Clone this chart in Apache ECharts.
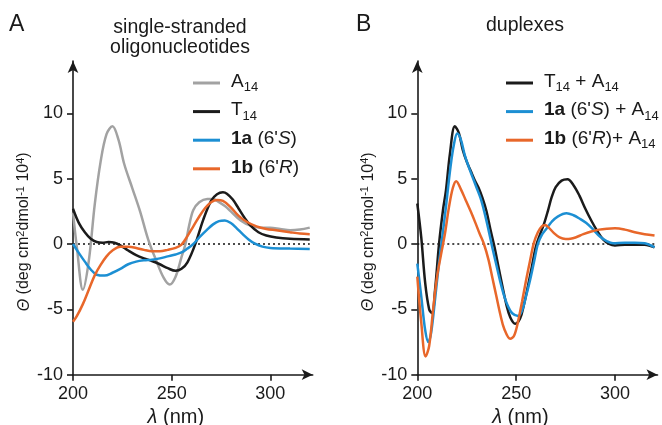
<!DOCTYPE html>
<html>
<head>
<meta charset="utf-8">
<script src="https://cdn.jsdelivr.net/npm/echarts@6/dist/echarts.min.js"></script>
<style>
html,body{margin:0;padding:0;background:#fff;}
#chart{width:662px;height:425px;}
</style>
</head>
<body>
<div id="chart"></div>
<script>
// ---------- Data (wavelength in nm, ellipticity in 10^4 deg cm2 dmol-1) ----------
// Panel A: single-stranded oligonucleotides
const wlA_A14 = [200,202,205,208,211,214,217,220,223,226,230,234,238,242,246,249,252,255,257,259,261,264,268,271,274,277,280,285,290,295,300,305,310,315,320];
const thA_A14 = [2.4,-0.3,-3.5,-1.3,3.0,6.3,8.4,9.0,8.0,6.1,4.3,2.5,0.4,-1.2,-2.6,-3.1,-2.5,-1.0,0,1.5,2.6,3.2,3.45,3.45,3.2,2.9,2.5,1.8,1.4,1.25,1.25,1.15,1.05,1.1,1.25];

const wlA_T14 = [200,203,206,209,212,215,218,221,224,228,232,236,240,244,248,252,255,258,262,266,270,273,276,278,281,284,287,290,294,298,303,310,320];
const thA_T14 = [2.7,1.6,0.9,0.4,0.15,0.1,0.15,0.1,-0.1,-0.5,-0.85,-1.1,-1.3,-1.55,-1.85,-2.05,-1.9,-1.4,0,1.85,3.3,3.8,3.95,3.85,3.4,2.7,2.0,1.4,0.9,0.65,0.5,0.4,0.35];

const wlA_1a = [200,203,206,209,212,216,220,224,228,232,236,240,244,248,252,255,258,261,264,268,271,274,277,280,283,286,289,292,296,300,310,320];
const thA_1a = [0,-0.7,-1.35,-1.95,-2.35,-2.42,-2.2,-1.9,-1.55,-1.35,-1.25,-1.2,-1.1,-0.95,-0.8,-0.65,-0.35,0,0.5,1.1,1.5,1.75,1.8,1.6,1.2,0.75,0.35,0.05,-0.2,-0.3,-0.35,-0.38];

const wlA_1b = [200,202,205,208,211,214,217,220,224,228,232,236,240,244,248,252,255,258,261,264,267,270,273,276,280,284,288,293,298,303,310,315,320];
const thA_1b = [-5.95,-5.5,-4.6,-3.5,-2.4,-1.6,-0.95,-0.5,-0.22,-0.22,-0.3,-0.45,-0.55,-0.55,-0.45,-0.3,-0.05,0.6,1.35,2.1,2.75,3.2,3.37,3.3,2.8,2.15,1.7,1.35,1.15,1.05,0.9,0.8,0.75];

// Panel B: duplexes
const wlB_T14A14 = [200,202,204,206,207.5,209,211,213,214.5,216.5,219,221,223,225,227,229,231,233,235,237,239,241,243,245,247,249.5,252,254,256,258,260,262,264,266,268,270,273,276,279,282,285,288,291,294,297,300,305,310,315,320];
const thB_T14A14 = [3.1,0.5,-3.0,-5.0,-5.3,-3.5,0,2.6,4.1,6.9,9.0,8.5,7.2,6.3,5.6,4.9,4.3,3.5,2.5,1.1,-0.2,-1.7,-3.2,-4.6,-5.6,-6.1,-5.7,-4.6,-3.2,-1.7,-0.2,0.7,1.5,2.5,3.6,4.35,4.85,4.95,4.5,3.7,2.7,1.8,1.0,0.35,0.0,-0.12,-0.05,-0.05,-0.05,-0.25];

const wlB_1a = [200,202,204,205.6,207,209,211,212.2,214.3,216.8,218.5,220.2,222,224,226,228,230,232,234,236,238,240,242,244,246,248,251,253,255,257,259,261,263,265.5,268,271,275.5,279,282,285.5,289,292.5,296,299,305,310,315,320];
const thB_1a = [-1.5,-4.0,-6.6,-7.5,-6.8,-4.2,-1.4,0,2.6,5.9,7.6,8.45,8.0,6.8,5.9,5.1,4.3,3.5,2.4,1.1,-0.3,-1.6,-2.9,-4.0,-4.8,-5.3,-5.5,-5.1,-4.0,-2.8,-1.4,0,0.7,1.2,1.7,2.1,2.35,2.2,1.95,1.6,1.1,0.55,0.2,0.05,0.1,0.1,0.05,-0.25];

const wlB_1b = [200,202,204.2,206,208,210,212,214,216,218,219.7,222,224.5,227,229.5,231.5,233.7,236,238,240,242,244,247,249,251,253,255,257,259,261,263,264.6,266.5,269,272,275,277.5,280,284,288,292,296,300,305,310,315,320];
const thB_1b = [-2.5,-6.0,-8.6,-7.8,-5.0,-2.5,-0.8,0.8,2.8,4.3,4.8,4.2,3.35,2.5,1.58,0.8,0,-1.2,-2.6,-4.0,-5.4,-6.5,-7.25,-7.0,-5.9,-4.4,-2.8,-1.3,0.1,0.9,1.35,1.45,1.25,0.85,0.5,0.38,0.4,0.5,0.75,0.95,1.1,1.17,1.2,1.1,0.9,0.75,0.65];

// Zero reference line
const zeroLineX = [200,320];
const zeroLineY = [0,0];

// Ticks
const xTicks = [200,250,300];
const yTicks = [-10,-5,0,5,10];

// Names
const namesA = ['A14','T14',"1a (6'S)","1b (6'R)"];
const namesB = ['T14 + A14',"1a (6'S) + A14","1b (6'R)+ A14"];
const colors = {gray:'#a2a2a2', black:'#1b1b1b', blue:'#1c8fd3', orange:'#e8672a'};

// ---------- Build ----------
const zip = (xs, ys) => xs.map((x,i) => [x, ys[i]]);
const FONT = "'Liberation Sans', Arial, Helvetica, sans-serif";
const TXT = '#1a1a1a';

const legendLabel = {
  'A14': '{n|A}{sub|14}',
  'T14': '{n|T}{sub|14}',
  "1a (6'S)": "{b|1a}{n| (6'}{i|S}{n|)}",
  "1b (6'R)": "{b|1b}{n| (6'}{i|R}{n|)}",
  'T14 + A14': '{n|T}{sub|14}{n| + A}{sub|14}',
  "1a (6'S) + A14": "{b|1a}{n| (6'}{i|S}{n|) + A}{sub|14}",
  "1b (6'R)+ A14": "{b|1b}{n| (6'}{i|R}{n|)+ A}{sub|14}"
};
const legendRich = {
  n:   {fontSize: 19, fontFamily: FONT, color: TXT, verticalAlign: 'top'},
  b:   {fontSize: 19, fontFamily: FONT, color: TXT, verticalAlign: 'top', fontWeight: 'bold'},
  i:   {fontSize: 19, fontFamily: FONT, color: TXT, verticalAlign: 'top', fontStyle: 'italic'},
  sub: {fontSize: 13, fontFamily: FONT, color: TXT, verticalAlign: 'bottom'}
};

function makeXAxis(gi){
  return {
    type:'value', gridIndex: gi, min:200, max:321.5,
    name: '{i|λ} (nm)', nameLocation:'middle', nameGap: 29,
    nameTextStyle: {fontSize: 20, fontFamily: FONT, color: TXT, padding:[0,34,0,0],
      rich: {i: {fontSize: 20, fontFamily: FONT, color: TXT, fontStyle:'italic'}}},
    axisLine: {show:true, onZero:false, symbol:['none','arrow'], symbolSize:[8,11],
      lineStyle:{color:'#1a1a1a', width:1.6}},
    axisTick: {show:true, customValues: xTicks, length:6, lineStyle:{color:'#1a1a1a', width:1.6}},
    axisLabel: {customValues: xTicks, fontSize:18, fontFamily: FONT, color: TXT, margin:10},
    splitLine: {show:false}
  };
}
function makeYAxis(gi){
  return {
    type:'value', gridIndex: gi, min:-10, max:14,
    name: '{th|Θ} (deg cm{sup|2}dmol{sup|-1} 10{sup|4})', nameLocation:'middle', nameGap: 33,
    nameTextStyle: {fontSize: 16, fontFamily: FONT, color: TXT, lineHeight: 18, padding:[0,28,0,0],
      rich: {
        th: {fontSize: 16, fontFamily: FONT, color: TXT, fontStyle:'italic', lineHeight: 18},
        sup: {fontSize: 11, fontFamily: FONT, color: TXT, verticalAlign:'top', lineHeight: 10, padding:[0,0,0,0]}
      }},
    axisLine: {show:true, onZero:false, symbol:['none','arrow'], symbolSize:[8,12],
      lineStyle:{color:'#1a1a1a', width:1.6}},
    axisTick: {show:true, customValues: yTicks, length:6, lineStyle:{color:'#1a1a1a', width:1.6}},
    axisLabel: {customValues: yTicks, fontSize:18, fontFamily: FONT, color: TXT, margin:10},
    splitLine: {show:false}
  };
}
function lineSeries(name, xs, ys, color, gi){
  return {
    name, type:'line', xAxisIndex: gi, yAxisIndex: gi,
    data: zip(xs, ys), smooth: 0.35, symbol:'none', showSymbol:false,
    color, lineStyle:{color, width:2.5}, silent:true, animation:false
  };
}
function zeroSeries(gi){
  return {
    name:'zero'+gi, type:'line', xAxisIndex: gi, yAxisIndex: gi,
    data: zip(zeroLineX, zeroLineY), symbol:'none', silent:true, z:1, animation:false,
    lineStyle:{color:'#111', width:1.6, type:[2,3]}
  };
}
function makeLegend(names, left){
  return {
    data: names, orient:'vertical', left, top:72, padding:0,
    itemWidth:27, itemHeight:3, itemGap:6.6,
    icon:'rect', selectedMode:false,
    formatter: n => legendLabel[n],
    textStyle: {fontSize:19, fontFamily: FONT, color: TXT, lineHeight:22, padding:[0,0,0,6], rich: legendRich}
  };
}

const option = {
  animation:false,
  backgroundColor:'#ffffff',
  grid: [
    {left:73, top:61, width:239.7, height:313.7, containLabel:false, outerBoundsMode:'none'},
    {left:417.3, top:61, width:240.2, height:313.7, containLabel:false, outerBoundsMode:'none'}
  ],
  xAxis: [makeXAxis(0), makeXAxis(1)],
  yAxis: [makeYAxis(0), makeYAxis(1)],
  legend: [makeLegend(namesA, 193), makeLegend(namesB, 506)],
  graphic: [
    {type:'text', x:9, y:25, style:{text:'A', fontSize:23, fontFamily:FONT, fill:TXT, align:'left', verticalAlign:'middle'}},
    {type:'text', x:356, y:25, style:{text:'B', fontSize:23, fontFamily:FONT, fill:TXT, align:'left', verticalAlign:'middle'}},
    {type:'text', x:180, y:17, style:{text:'single-stranded\noligonucleotides', fontSize:19.5, lineHeight:20.5, fontFamily:FONT, fill:TXT, align:'center', verticalAlign:'top'}},
    {type:'text', x:525, y:26, style:{text:'duplexes', fontSize:19.5, fontFamily:FONT, fill:TXT, align:'center', verticalAlign:'middle'}}
  ],
  series: [
    zeroSeries(0),
    lineSeries(namesA[0], wlA_A14, thA_A14, colors.gray, 0),
    lineSeries(namesA[1], wlA_T14, thA_T14, colors.black, 0),
    lineSeries(namesA[2], wlA_1a, thA_1a, colors.blue, 0),
    lineSeries(namesA[3], wlA_1b, thA_1b, colors.orange, 0),
    zeroSeries(1),
    lineSeries(namesB[0], wlB_T14A14, thB_T14A14, colors.black, 1),
    lineSeries(namesB[1], wlB_1a, thB_1a, colors.blue, 1),
    lineSeries(namesB[2], wlB_1b, thB_1b, colors.orange, 1)
  ]
};

const chart = echarts.init(document.getElementById('chart'), null, {renderer:'canvas'});
chart.setOption(option);
</script>
</body>
</html>
